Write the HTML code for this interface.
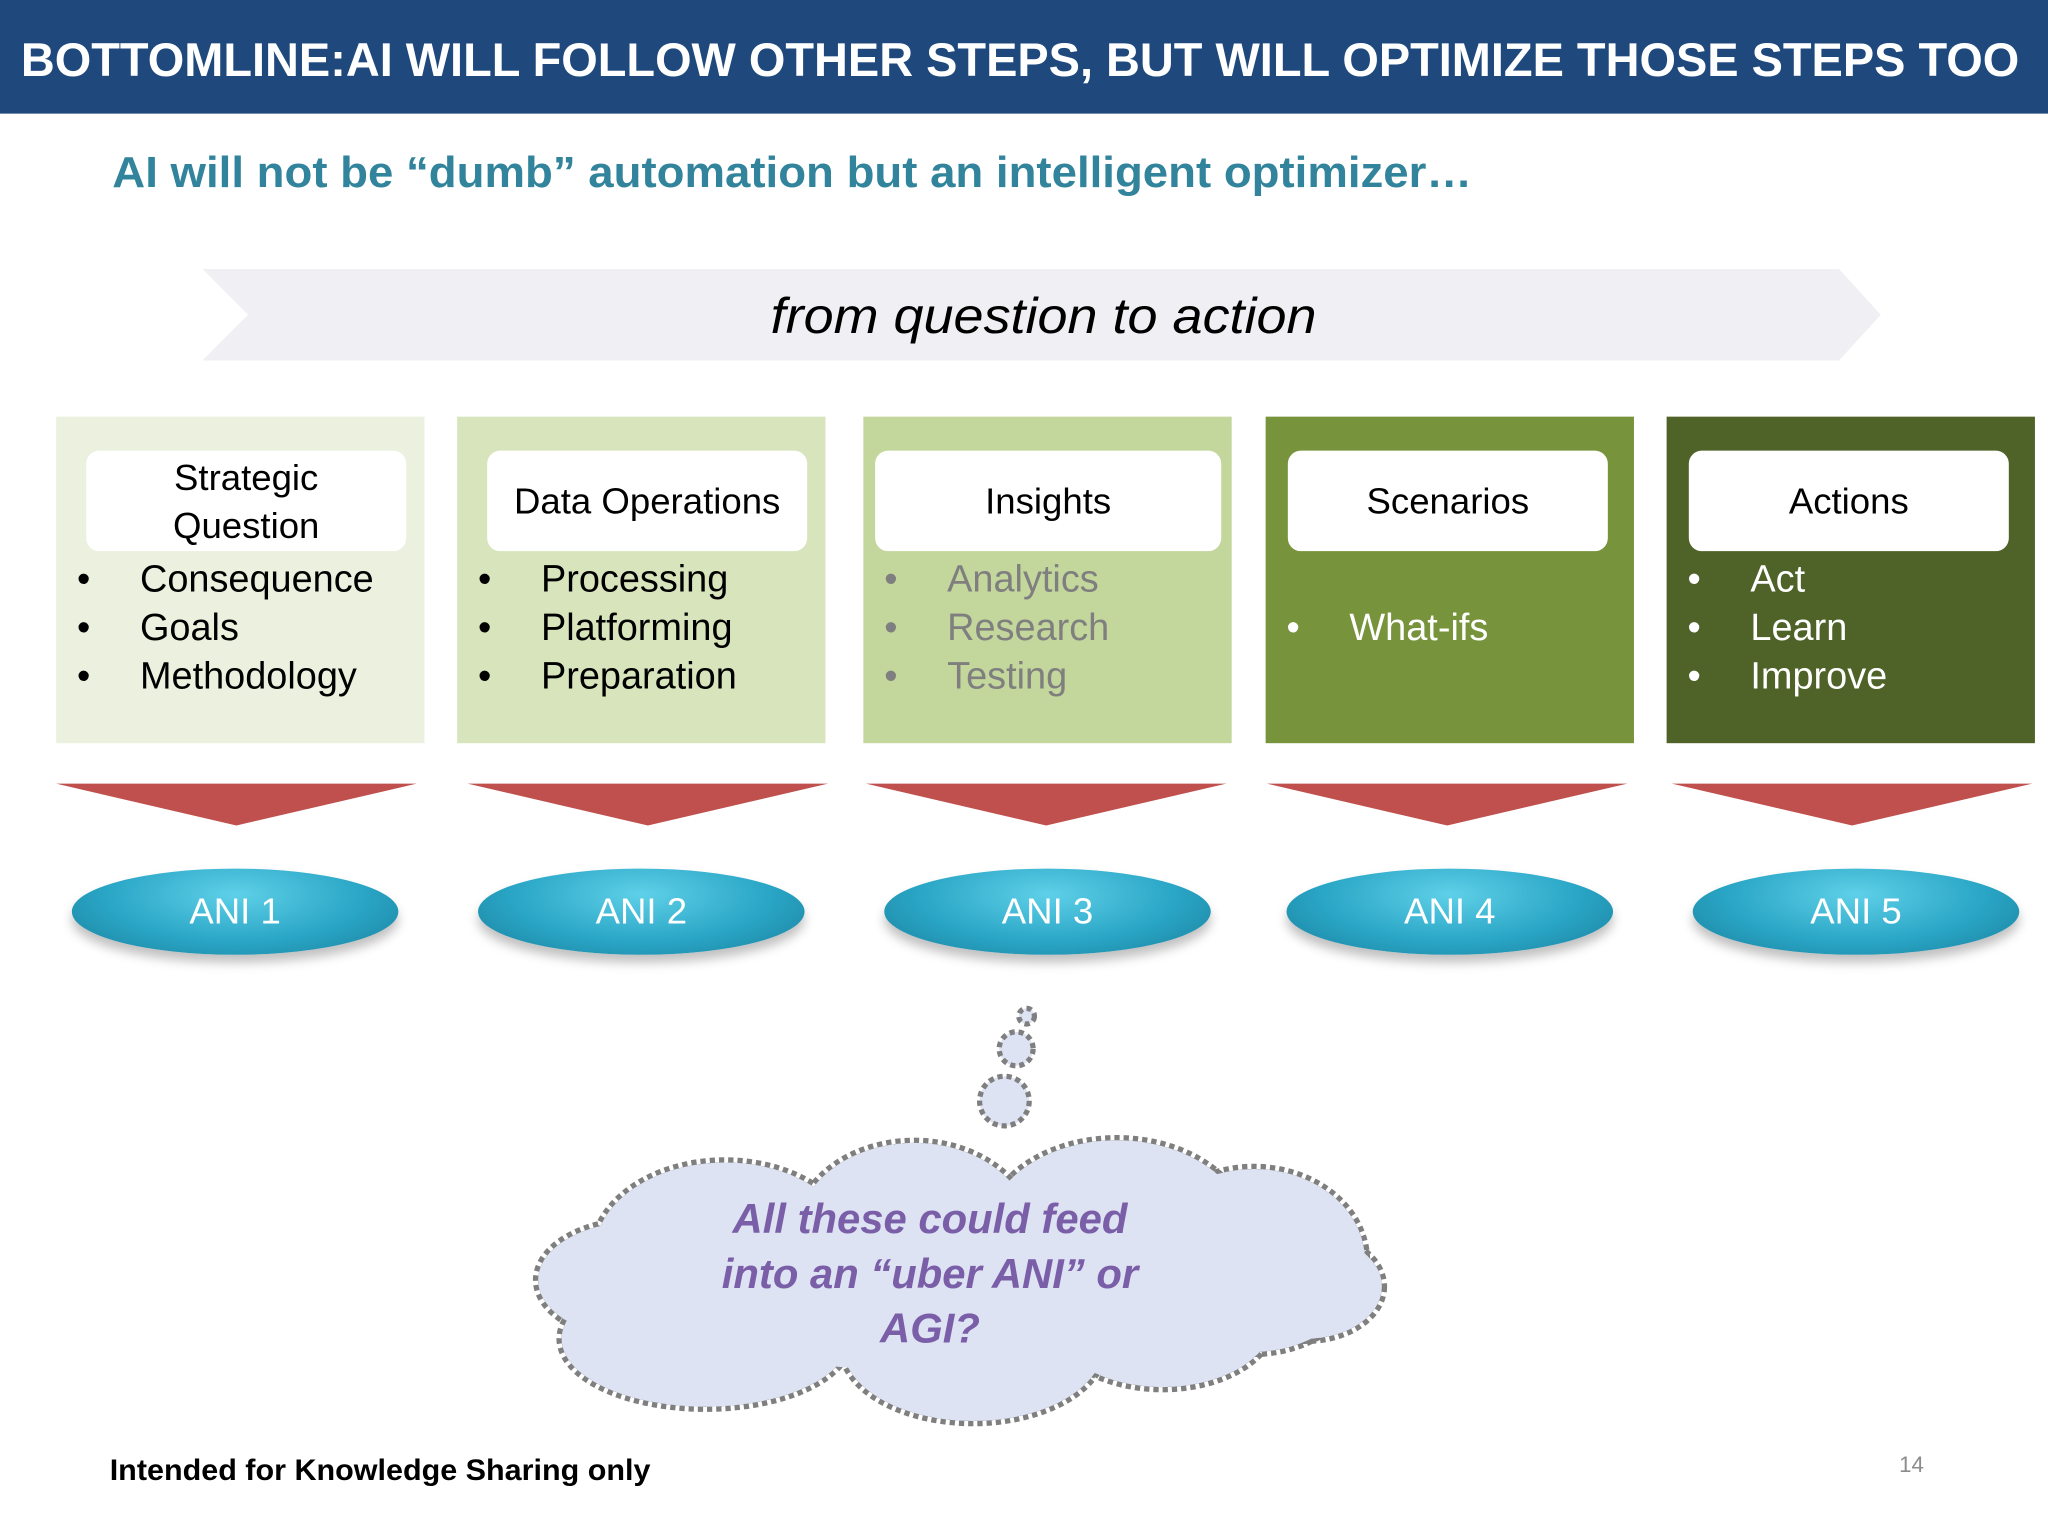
<!DOCTYPE html>
<html><head><meta charset="utf-8"><style>
html,body{margin:0;padding:0;background:#fff;width:2048px;height:1536px;overflow:hidden}
#s{position:absolute;left:0;top:0;width:1568px;height:1176px;transform:scale(1.306122);transform-origin:0 0;font-family:"Liberation Sans",sans-serif}
.a{position:absolute}
.box{position:absolute;top:319px;width:282px;height:250px}
.lab{position:absolute;top:26px;left:23px;width:245px;height:77px;background:#fff;border-radius:10px;display:flex;align-items:center;justify-content:center;text-align:center;font-size:28px;line-height:37px;color:#000}
.bl{position:absolute;left:16px;font-size:29px;line-height:37px}
.bl span{display:inline-block;width:38px}
.ell{position:absolute;top:665px;width:250px;height:66px;border-radius:50%;background:radial-gradient(ellipse at 50% 30%,#5fd0e8 0%,#2aa6c6 55%,#1a7f9c 100%);box-shadow:0 6px 8px rgba(0,0,0,.25);color:#fff;font-size:28px;display:flex;align-items:center;justify-content:center}
</style></head><body><div id="s">
<div class="a" style="left:0;top:0;width:1568px;height:87px;background:#1f497d"></div>
<svg class="a" style="left:0;top:0" width="1568" height="1176">
<text x="16" y="58" fill="#fff" font-size="36" font-weight="bold" textLength="1530" lengthAdjust="spacingAndGlyphs">BOTTOMLINE:AI WILL FOLLOW OTHER STEPS, BUT WILL OPTIMIZE THOSE STEPS TOO</text>
<text x="86" y="143" fill="#31849b" font-size="33" font-weight="bold" textLength="1041" lengthAdjust="spacingAndGlyphs">AI will not be “dumb” automation but an intelligent optimizer…</text>
<polygon points="155,206 1408,206 1440,241 1408,276 155,276 190,241" fill="#f0f0f4"/>
<text x="590" y="255" font-size="38" font-style="italic" textLength="418" lengthAdjust="spacingAndGlyphs">from question to action</text>
<text x="84" y="1133" font-size="23" font-weight="bold" textLength="414" lengthAdjust="spacingAndGlyphs">Intended for Knowledge Sharing only</text>
</svg>

<div class="box" style="left:43px;background:#ebf1de"><div class="lab">Strategic<br>Question</div>
<div class="bl" style="top:107px;color:#000">•<span></span>Consequence<br>•<span></span>Goals<br>•<span></span>Methodology</div></div>
<div class="box" style="left:350px;background:#d7e4bc"><div class="lab">Data Operations</div>
<div class="bl" style="top:107px;color:#000">•<span></span>Processing<br>•<span></span>Platforming<br>•<span></span>Preparation</div></div>
<div class="box" style="left:661px;background:#c3d69b"><div class="lab" style="left:9px;width:265px">Insights</div>
<div class="bl" style="top:107px;color:#7f7f7f">•<span></span>Analytics<br>•<span></span>Research<br>•<span></span>Testing</div></div>
<div class="box" style="left:969px;background:#77933c"><div class="lab" style="left:17px">Scenarios</div>
<div class="bl" style="top:144px;color:#fff">•<span></span>What-ifs</div></div>
<div class="box" style="left:1276px;background:#4f6228"><div class="lab" style="left:17px">Actions</div>
<div class="bl" style="top:107px;color:#fff">•<span></span>Act<br>•<span></span>Learn<br>•<span></span>Improve</div></div>

<svg class="a" style="left:0;top:590px" width="1568" height="50" fill="#c0504d">
<polygon points="43,10 319,10 181,42"/><polygon points="358,10 634,10 496,42"/><polygon points="663,10 939,10 801,42"/><polygon points="970,10 1246,10 1108,42"/><polygon points="1280,10 1556,10 1418,42"/></svg>

<div class="ell" style="left:55px">ANI 1</div>
<div class="ell" style="left:366px">ANI 2</div>
<div class="ell" style="left:677px">ANI 3</div>
<div class="ell" style="left:985px">ANI 4</div>
<div class="ell" style="left:1296px">ANI 5</div>

<svg class="a" style="left:0;top:0" width="1568" height="1176">
<g stroke="#7f7f7f" stroke-width="4" stroke-dasharray="4 3" fill="#dde3f2">
<circle cx="786" cy="778" r="6"/><circle cx="778" cy="803" r="13"/><circle cx="769" cy="843" r="19"/>
</g>
<g stroke="#7f7f7f" stroke-width="8" stroke-dasharray="4 3">
<ellipse cx="555" cy="960" rx="100" ry="70"/><ellipse cx="700" cy="945" rx="90" ry="70"/><ellipse cx="855" cy="945" rx="100" ry="72"/><ellipse cx="960" cy="965" rx="85" ry="70"/>
<ellipse cx="490" cy="980" rx="78" ry="45"/><ellipse cx="540" cy="1025" rx="110" ry="52"/><ellipse cx="745" cy="1030" rx="100" ry="58"/><ellipse cx="890" cy="1010" rx="85" ry="52"/><ellipse cx="1000" cy="985" rx="58" ry="40"/>
</g>
<g fill="#dde3f2">
<ellipse cx="555" cy="960" rx="100" ry="70"/><ellipse cx="700" cy="945" rx="90" ry="70"/><ellipse cx="855" cy="945" rx="100" ry="72"/><ellipse cx="960" cy="965" rx="85" ry="70"/>
<ellipse cx="490" cy="980" rx="78" ry="45"/><ellipse cx="540" cy="1025" rx="110" ry="52"/><ellipse cx="745" cy="1030" rx="100" ry="58"/><ellipse cx="890" cy="1010" rx="85" ry="52"/><ellipse cx="1000" cy="985" rx="58" ry="40"/>
<ellipse cx="720" cy="990" rx="230" ry="60"/>
</g>
</svg>
<div class="a" style="left:512px;top:912px;width:400px;text-align:center;color:#7a5ea8;font-size:32px;font-style:italic;font-weight:bold;line-height:42px">All these could feed<br>into an “uber ANI” or<br>AGI?</div>

<div class="a" style="left:1454px;top:1112px;font-size:17px;color:#8c8c8c">14</div>
</div></body></html>
